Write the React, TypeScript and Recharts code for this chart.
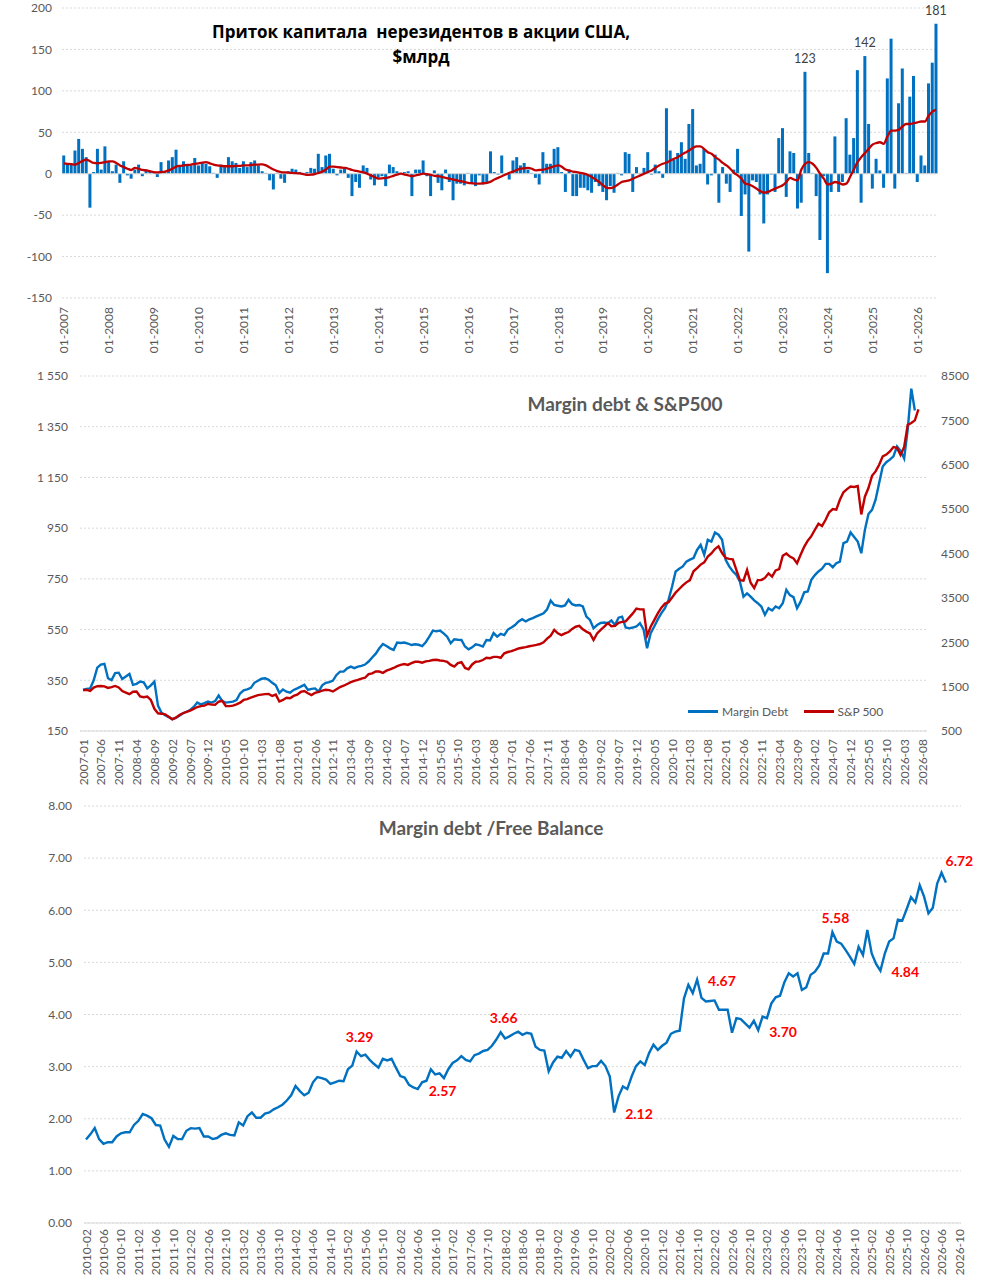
import React from "react";
import {
  ComposedChart, Bar, Line, XAxis, YAxis, CartesianGrid, ReferenceLine, LabelList,
} from "recharts";

// ---- shared look ----
const FONT = "Lato, 'Open Sans', sans-serif";
const TICK_COLOR = "#595959";
const GRID = "#D9D9D9";
const BLUE = "#0070C0";
const RED = "#C00000";

// ---- 1. Non-resident inflows into US equities, $bn (monthly, 01-2007 .. 06-2026) ----
const flowValues = [
  22, 12, 12, 28, 42, 30, 20, -41, 2, 30,
  5, 33, 15, 3, 11, -11, 15, -2, -6, 5,
  11, -3, 5, 3, 1, -4, 14, 3, 16, 20,
  29, 10, 15, 10, 10, 19, 10, 14, 12, 9,
  1, -5, 11, 8, 20, 15, 13, 7, 15, 8,
  14, 16, 10, 3, 1, -8, -19, 1, -6, -11,
  3, 6, 5, 2, 1, 2, 7, 6, 24, 8,
  22, 24, 6, -2, 5, 7, -5, -27, -10, -17,
  10, 7, -7, -14, -5, -3, -15, 11, 8, 3,
  1, 2, 3, -27, 5, 5, 16, -3, -27, 4,
  -11, -20, 5, -10, -32, -12, -12, -14, 1, -12,
  -15, -2, -13, -10, 27, 2, -1, 22, -1, -7,
  16, 20, 10, 13, 5, 1, -5, -13, 26, 12,
  12, 30, 32, 2, -22, 4, -27, -27, -17, -17,
  -20, -23, -10, -15, -22, -32, -15, -23, 1, -2,
  26, 24, -22, 8, 1, 7, 26, -1, 11, 3,
  -5, 79, 28, 17, 25, 38, 18, 60, 78, 10,
  12, 30, -13, -2, 23, -35, 8, -12, -22, 5,
  30, -51, -25, -94, -8, -10, -25, -60, -25, -1,
  -22, 43, 55, -28, 27, 25, -42, -35, 123, 25,
  1, -27, -80, -3, -120, -22, 45, -22, -10, 67,
  23, 43, 125, -35, 142, 60, -18, 18, 4, -17,
  115, 163, -18, 85, 127, 1, 93, 118, -10, 22,
  10, 109, 134, 181,
];
const flowAverage = [
  12.5, 12, 11.5, 11, 13, 15.5, 17, 15, 13, 12.5,
  13, 14, 15, 15, 13, 10, 8, 6, 4.5, 7,
  6, 4.5, 4, 3, 2, 1.6, 2, 2.5, 4, 6,
  8.5, 9.5, 10, 10.5, 11, 12, 12.5, 13.5, 14, 12.5,
  11, 10, 9.5, 9, 9, 9, 9.5, 9.5, 10, 10,
  10.5, 11, 11, 11.3, 10, 7.5, 5, 3.2, 2, 1.5,
  1.2, 1, 0.6, 0.4, -0.5, -1.5, -1.2, -0.4, 1, 2.5,
  5, 8.5, 8.5, 8, 7.5, 7, 6, 4.5, 3.5, 2.5,
  1.5, 0, -2, -4, -6, -5.5, -5, -4, -2.5, -1,
  0, -1, -2, -3, -2, -1, 0, -0.5, -1.5, -2.5,
  -3, -4, -5, -6, -7, -8, -9, -10, -11, -11.5,
  -12, -12, -11.5, -11, -9.5, -7, -5, -3, -1, 1,
  2.5, 4.5, 6, 6.5, 7, 6, 4, 4.5, 5, 6,
  7.5, 9, 10, 8.5, 5, 4, 2.5, 2, 1, 0,
  -1.5, -4, -7, -10, -14, -17, -17.5, -16, -13, -10,
  -9, -8, -6, -4, -2, 0, 2, 4, 7, 10,
  12, 13.5, 16, 18, 20, 23, 25.5, 28, 31, 33,
  33, 30, 26, 24, 20, 17, 13, 10, 6, 1,
  -2, -6, -12, -13, -15, -18, -21, -23, -22, -20,
  -18, -16, -14, -10, -5, -7, -8, 5, 12, 14,
  12, 7, 0, -6, -13, -12, -10, -11, -13, -12,
  -4, 5, 14, 20, 25, 30, 35, 37, 38, 36,
  45, 52, 52, 53, 57, 60, 60, 61, 62, 63,
  63, 70, 75, 77,
];
const flowTicks = [-150, -100, -50, 0, 50, 100, 150, 200];
const flowLabelMonths = ["07-2023", "11-2024", "06-2026"];

// ---- 2. Margin debt ($bn, left) & S&P 500 (right), 2007-01 .. 2026-08 ----
const marginDebt = [
  312, 316, 318, 350, 400, 412, 415, 358, 351, 378,
  380, 355, 365, 375, 332, 336, 345, 342, 318, 330,
  345, 250, 222, 212, 205, 197, 202, 210, 220, 226,
  233, 245, 262, 255, 260, 266, 262, 268, 290, 268,
  262, 264, 266, 272, 298, 310, 314, 320, 340, 348,
  356, 358, 352, 340, 330, 300, 314, 305, 301, 312,
  318, 325, 332, 312, 316, 318, 305, 330, 340, 343,
  349, 371, 384, 384, 397, 404, 398, 404, 407, 412,
  424, 440, 455, 476, 493, 485, 476, 470, 499, 497,
  499, 495, 489, 492, 490, 485, 500, 522, 546, 543,
  546, 535, 522, 496, 512, 510, 509, 483, 472, 480,
  492, 489, 483, 509, 507, 536, 522, 533, 528, 550,
  558, 568, 582, 591, 582, 590, 595, 602, 608, 614,
  630, 664, 647, 644, 641, 645, 667, 650, 645, 647,
  641, 601, 588, 555, 568, 576, 578, 575, 586, 568,
  597, 601, 558, 555, 558, 562, 575, 551, 476, 536,
  562, 590, 615, 634, 667, 720, 779, 790, 799, 818,
  826, 832, 864, 884, 845, 904, 897, 933, 924, 904,
  825, 799, 780, 766, 739, 680, 693, 680, 665, 654,
  641, 608, 634, 625, 641, 634, 654, 707, 686, 678,
  634, 660, 697, 700, 746, 765, 779, 790, 809, 809,
  796, 812, 818, 891, 897, 933, 915, 897, 851, 943,
  1006, 1022, 1062, 1128, 1193, 1210, 1220, 1233, 1272, 1255,
  1225, 1340, 1500, 1414,
];
const sp500 = [
  1425, 1425, 1405, 1480, 1510, 1515, 1505, 1470, 1490, 1515,
  1480, 1400, 1365, 1330, 1385, 1390, 1280, 1260, 1275, 1200,
  1000, 900, 890, 875, 820, 763, 800, 860, 900, 930,
  960, 1000, 1040, 1060, 1070, 1110, 1095, 1090, 1160, 1180,
  1064, 1060, 1072, 1100, 1140, 1200, 1220, 1250, 1280, 1310,
  1320, 1330, 1335, 1290, 1320, 1165, 1200, 1250, 1240, 1290,
  1320, 1380, 1400, 1350, 1310, 1360, 1380, 1410, 1430, 1420,
  1390, 1440, 1490, 1520, 1560, 1600, 1630, 1650, 1680, 1700,
  1780, 1800, 1840, 1840, 1810, 1860, 1890, 1920, 1960, 1990,
  2010, 1990, 2030, 2060, 2060, 2040, 2070, 2080, 2100, 2105,
  2090, 2080, 2060, 1990, 1950, 2030, 2050, 1920, 1890, 2000,
  2060, 2070, 2100, 2150, 2140, 2170, 2170, 2150, 2250, 2280,
  2300, 2330, 2360, 2375, 2390, 2410, 2425, 2440, 2460, 2500,
  2580, 2650, 2780, 2700, 2660, 2700, 2730, 2800, 2850, 2870,
  2790, 2740, 2700, 2550, 2700, 2780, 2850, 2930, 2860, 2870,
  2940, 2960, 2970, 3060, 3150, 3260, 3240, 3240, 2650, 2850,
  3000, 3150, 3280, 3370, 3400, 3510, 3620, 3700, 3780, 3850,
  3900, 4100, 4170, 4250, 4300, 4430, 4500, 4600, 4660, 4510,
  4400, 4380, 4370, 4130, 3900, 3890, 4130, 3840, 3720, 3900,
  3900, 3950, 4050, 3980, 4120, 4150, 4450, 4500, 4430, 4390,
  4280, 4470, 4650, 4790, 4890, 5035, 5170, 5120, 5260, 5430,
  5500, 5490, 5710, 5880, 5950, 6010, 6000, 6020, 5380, 5780,
  5975, 6250, 6350, 6500, 6690, 6730, 6800, 6900, 6880, 6720,
  6900, 7400, 7440, 7500, 7750,
];
const debtTicks = [150, 350, 550, 750, 950, 1150, 1350, 1550];
const spxTicks = [500, 1500, 2500, 3500, 4500, 5500, 6500, 7500, 8500];

// ---- 3. Margin debt / free credit balance, 2010-02 .. 2026-07 ----
const debtToFree = [
  1.6, 1.7, 1.82, 1.61, 1.52, 1.55, 1.55, 1.66, 1.72, 1.74,
  1.74, 1.88, 1.96, 2.09, 2.06, 2.01, 1.88, 1.87, 1.6, 1.46,
  1.67, 1.61, 1.61, 1.77, 1.82, 1.81, 1.82, 1.66, 1.66, 1.61,
  1.63, 1.69, 1.72, 1.69, 1.68, 1.93, 1.87, 2.05, 2.12, 2.02,
  2.02, 2.1, 2.12, 2.18, 2.22, 2.27, 2.35, 2.45, 2.63, 2.53,
  2.45, 2.5, 2.7, 2.8, 2.78, 2.75, 2.67, 2.7, 2.73, 2.72,
  2.95, 3.02, 3.29, 3.2, 3.23, 3.13, 3.05, 2.98, 3.15, 3.12,
  3.15, 2.98, 2.82, 2.79, 2.65, 2.6, 2.57, 2.7, 2.73, 2.95,
  2.85, 2.87, 2.78, 2.95, 3.07, 3.12, 3.2, 3.13, 3.1, 3.22,
  3.25, 3.3, 3.32, 3.4, 3.52, 3.66, 3.54, 3.58, 3.63, 3.67,
  3.61, 3.65, 3.63, 3.38, 3.32, 3.31, 2.91, 3.08, 3.19, 3.17,
  3.3, 3.19, 3.32, 3.3, 3.13, 2.97, 3.01, 3.01, 3.11, 3.01,
  2.81, 2.12, 2.43, 2.62, 2.57, 2.81, 3.01, 3.1, 3.03, 3.26,
  3.42, 3.32, 3.4, 3.46, 3.63, 3.67, 3.69, 4.31, 4.57, 4.41,
  4.67, 4.32, 4.25, 4.26, 4.27, 4.09, 4.09, 4.09, 3.65, 3.93,
  3.91, 3.83, 3.75, 3.88, 3.7, 3.96, 3.93, 4.21, 4.33, 4.36,
  4.62, 4.79, 4.73, 4.79, 4.47, 4.52, 4.76, 4.82, 4.94, 5.17,
  5.17, 5.58, 5.4, 5.36, 5.24, 5.11, 4.97, 5.3, 5.14, 5.62,
  5.17, 4.97, 4.84, 5.17, 5.4, 5.46, 5.82, 5.8, 6.02, 6.25,
  6.15, 6.48, 6.26, 5.94, 6.05, 6.51, 6.72, 6.53,
];
const ratioTicks = [0, 1, 2, 3, 4, 5, 6, 7, 8];
const ratioLabelsAbove = ["2015-04", "2018-01", "2024-05"];
const ratioLabelsRight = ["2016-06", "2020-03", "2021-10", "2022-12", "2025-04"];
const ratioLabelsAboveRight = ["2026-06"];

// month keys
function monthList(startYear: number, startMonth: number, count: number) {
  const out: { y: number; m: string }[] = [];
  for (let k = 0; k < count; k++) {
    const t = startMonth - 1 + k;
    out.push({ y: startYear + Math.floor(t / 12), m: String((t % 12) + 1).padStart(2, "0") });
  }
  return out;
}
const flowMonths = monthList(2007, 1, 234).map((d) => `${d.m}-${d.y}`);
const debtMonths = monthList(2007, 1, 236).map((d) => `${d.y}-${d.m}`);
const ratioMonths = monthList(2010, 2, 201).map((d) => `${d.y}-${d.m}`);

const flowData = flowMonths.map((month, i) => ({ month, flow: flowValues[i], avg: flowAverage[i] }));
const debtData = debtMonths.map((month, i) => ({ month, debt: marginDebt[i] ?? null, spx: sp500[i] ?? null }));
const ratioData = ratioMonths.map((month, i) => ({ month, ratio: debtToFree[i] ?? null }));

const fmtSpace = (v: number) => (v >= 1000 ? `${Math.floor(v / 1000)} ${String(v % 1000).padStart(3, "0")}` : String(v));

const VerticalTick = ({ x, y, payload }: any) => (
  <text
    x={x}
    y={y}
    transform={`rotate(-90 ${x} ${y})`}
    textAnchor="end"
    dominantBaseline="central"
    fontSize={12}
    fontFamily={FONT}
    fill={TICK_COLOR}
  >
    {payload.value}
  </text>
);

const FlowLabel = (props: any) => {
  const { x, y, width, value, index } = props;
  if (!flowLabelMonths.includes(flowMonths[index])) return null;
  return (
    <text x={x + width / 2} y={y - 9} textAnchor="middle" fontSize={12.5} fontFamily={FONT} fill="#404040">
      {value}
    </text>
  );
};

const RatioLabel = (props: any) => {
  const { x, y, value, index } = props;
  if (value == null || x == null) return null;
  const m = ratioMonths[index];
  let dx = 0;
  let dy = 0;
  let anchor: "start" | "middle" = "middle";
  if (ratioLabelsAbove.includes(m)) { dx = 3; dy = -15; }
  else if (ratioLabelsRight.includes(m)) { dx = 11; dy = 1; anchor = "start"; }
  else if (ratioLabelsAboveRight.includes(m)) { dx = 4; dy = -12; anchor = "start"; }
  else return null;
  return (
    <text x={x + dx} y={y + dy} textAnchor={anchor} dominantBaseline="central" fontSize={14} fontWeight={700} fontFamily={FONT} fill="#FF0000">
      {Number(value).toFixed(2)}
    </text>
  );
};

const yTick = { fontSize: 12, fill: TICK_COLOR, fontFamily: FONT };

export default function App() {
  return (
    <div style={{ position: "absolute", left: 0, top: 0, width: 982, height: 1280, background: "#fff", fontFamily: FONT }}>
      {/* 1. inflows */}
      <div style={{ position: "absolute", left: 0, top: 0 }}>
        <ComposedChart width={982} height={360} data={flowData} margin={{ top: 8, right: 44, left: 0, bottom: 0 }} barCategoryGap="6%">
          <CartesianGrid vertical={false} stroke={GRID} strokeDasharray="2 2" />
          <XAxis dataKey="month" interval={11} tick={<VerticalTick />} tickSize={0} tickMargin={9} axisLine={false} tickLine={false} height={62} />
          <YAxis domain={[-150, 200]} ticks={flowTicks} interval={0} width={62} axisLine={false} tickLine={false} tickSize={0} tickMargin={10} tick={yTick} />
          <ReferenceLine y={0} stroke="#D9D9D9" />
          <Bar dataKey="flow" fill={BLUE} isAnimationActive={false}>
            <LabelList dataKey="flow" content={<FlowLabel />} />
          </Bar>
          <Line dataKey="avg" type="monotone" stroke={RED} strokeWidth={2.3} dot={false} isAnimationActive={false} />
        </ComposedChart>
        <div style={{ position: "absolute", left: 0, width: 842, top: 19, textAlign: "center", fontFamily: "'Open Sans', sans-serif", fontWeight: 700, fontSize: 17, lineHeight: "25px", color: "#000" }}>
          Приток капитала&nbsp; нерезидентов в акции США,
          <br />
          $млрд
        </div>
      </div>

      {/* 2. margin debt & S&P 500 */}
      <div style={{ position: "absolute", left: 0, top: 360 }}>
        <ComposedChart width={982} height={430} data={debtData} margin={{ top: 16, right: 0, left: 0, bottom: 0 }}>
          <CartesianGrid vertical={false} stroke={GRID} strokeDasharray="2 2" yAxisId="left" />
          <XAxis dataKey="month" scale="point" padding={{ left: 3, right: 5 }} interval={4} tick={<VerticalTick />} tickSize={0} tickMargin={8} axisLine={{ stroke: GRID }} tickLine={false} height={59} />
          <YAxis yAxisId="left" domain={[150, 1550]} ticks={debtTicks} interval={0} width={80} axisLine={false} tickLine={false} tickSize={0} tickMargin={12} tick={yTick} tickFormatter={fmtSpace} />
          <YAxis yAxisId="right" orientation="right" domain={[500, 8500]} ticks={spxTicks} interval={0} width={55} axisLine={false} tickLine={false} tickSize={0} tickMargin={14} tick={yTick} />
          <Line yAxisId="left" dataKey="debt" name="Margin Debt" type="linear" stroke={BLUE} strokeWidth={2.4} dot={false} isAnimationActive={false} />
          <Line yAxisId="right" dataKey="spx" name="S&P 500" type="linear" stroke={RED} strokeWidth={2.4} dot={false} isAnimationActive={false} />
        </ComposedChart>
        <div style={{ position: "absolute", left: 425, width: 400, top: 32, textAlign: "center", fontWeight: 700, fontSize: 19, lineHeight: "24px", color: TICK_COLOR }}>
          Margin debt &amp; S&amp;P500
        </div>
        <div style={{ position: "absolute", left: 688, top: 344, display: "flex", alignItems: "center", fontSize: 12, color: TICK_COLOR, whiteSpace: "nowrap" }}>
          <span style={{ display: "inline-block", width: 30, height: 2.2, background: BLUE, marginRight: 4 }} />
          <span>Margin Debt</span>
          <span style={{ display: "inline-block", width: 30, height: 2.2, background: RED, marginLeft: 16, marginRight: 3 }} />
          <span>S&amp;P 500</span>
        </div>
      </div>

      {/* 3. margin debt / free balance */}
      <div style={{ position: "absolute", left: 0, top: 790 }}>
        <ComposedChart width={982} height={490} data={ratioData} margin={{ top: 16, right: 21, left: 0, bottom: 0 }}>
          <CartesianGrid vertical={false} stroke={GRID} strokeDasharray="2 2" />
          <XAxis dataKey="month" scale="point" padding={{ left: 2, right: 2 }} interval={3} tick={<VerticalTick />} tickSize={0} tickMargin={6} axisLine={{ stroke: GRID }} tickLine={false} height={57} />
          <YAxis domain={[0, 8]} ticks={ratioTicks} interval={0} width={84} axisLine={false} tickLine={false} tickSize={0} tickMargin={12} tick={yTick} tickFormatter={(v: number) => v.toFixed(2)} />
          <Line dataKey="ratio" type="linear" stroke={BLUE} strokeWidth={2.4} dot={false} isAnimationActive={false}>
            <LabelList dataKey="ratio" content={<RatioLabel />} />
          </Line>
        </ComposedChart>
        <div style={{ position: "absolute", left: 291, width: 400, top: 26, textAlign: "center", fontWeight: 700, fontSize: 19, lineHeight: "24px", color: TICK_COLOR }}>
          Margin debt /Free Balance
        </div>
      </div>
    </div>
  );
}
